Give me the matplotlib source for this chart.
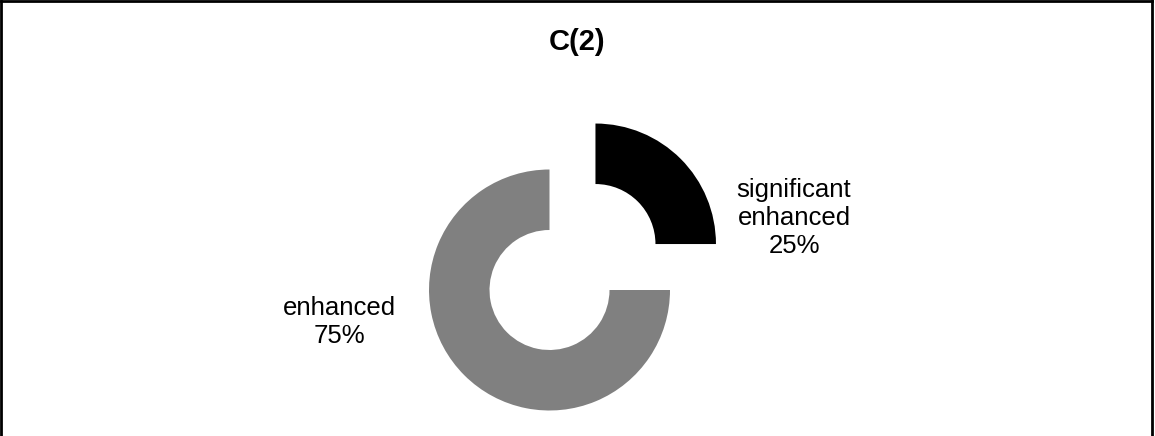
import matplotlib
matplotlib.use("Agg")
import matplotlib.pyplot as plt
from matplotlib.lines import Line2D

plt.rcParams['font.family'] = ['Liberation Sans', 'DejaVu Sans']

title = "C(2)"
categories = ["significant\nenhanced", "enhanced"]
values = [25, 75]
colors = ["#000000", "#808080"]

W, H = 1155, 436
fig = plt.figure(figsize=(W / 100, H / 100), dpi=100)
ax = fig.add_axes([0, 0, 1, 1])

cx, cy = 549.5, H - 290
R = 120.5
ax.pie(values, colors=colors, startangle=90, counterclock=False,
       radius=R, center=(cx, cy), explode=[65, 0],
       wedgeprops=dict(width=60.5, linewidth=0), frame=True)
ax.set_xlim(0, W)
ax.set_ylim(0, H)
ax.set_aspect('equal')
ax.axis('off')

label_pos = [(794, H - 218), (339, H - 322)]
for cat, v, (lx, ly) in zip(categories, values, label_pos):
    ax.text(lx, ly, f"{cat}\n{v}%", ha='center', va='center', fontsize=18.5,
            linespacing=1.22, color='black')

ax.text(577, H - 42, title, ha='center', va='center', fontsize=21,
        fontweight='bold')

# frame
fig.add_artist(Line2D([1 / W, 1 / W], [0, 1 - 1 / H], transform=fig.transFigure, color='black', lw=2))
fig.add_artist(Line2D([1 / W, 1 - 3 / W], [1 - 1 / H, 1 - 1 / H], transform=fig.transFigure, color='black', lw=2))
fig.add_artist(Line2D([1 - 3 / W, 1 - 3 / W], [0, 1 - 1 / H], transform=fig.transFigure, color='black', lw=2))

fig.savefig("out.png", dpi=100)
